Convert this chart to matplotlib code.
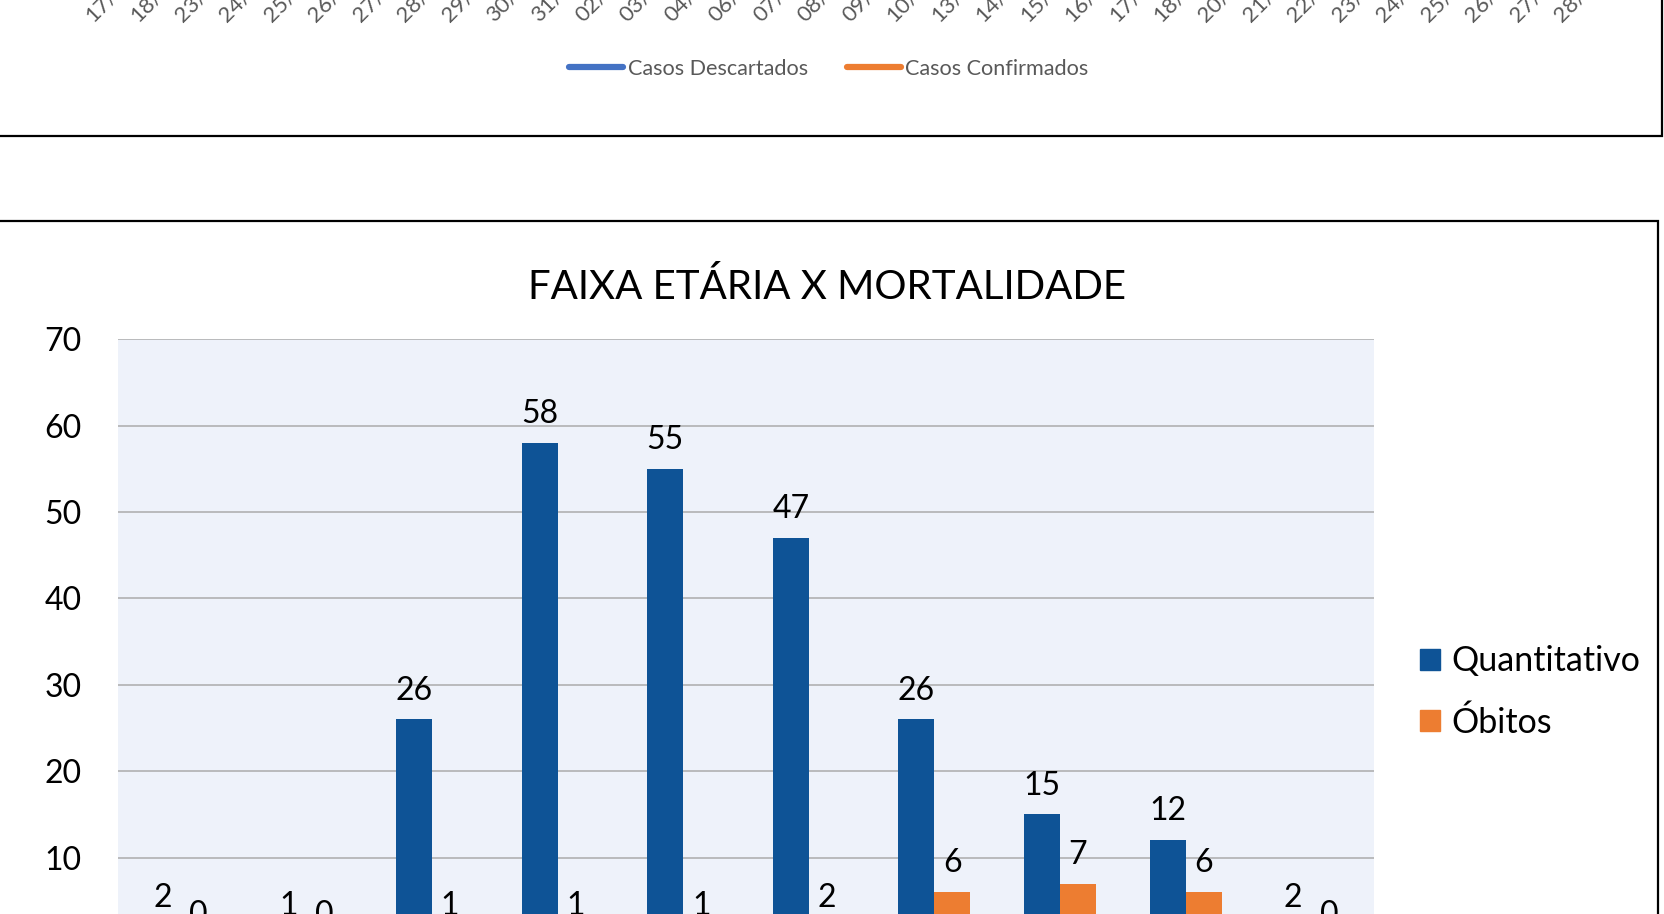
import numpy as np
import matplotlib
matplotlib.use("Agg")
import matplotlib.pyplot as plt
from matplotlib.patches import Rectangle, Patch
from matplotlib.lines import Line2D

plt.rcParams['font.family'] = ['Lato', 'DejaVu Sans']

# Dados - grafico de cima (so os rotulos das datas aparecem)
datas = ["17/03/2020", "18/03/2020", "23/03/2020", "24/03/2020", "25/03/2020",
         "26/03/2020", "27/03/2020", "28/03/2020", "29/03/2020", "30/03/2020",
         "31/03/2020", "02/04/2020", "03/04/2020", "04/04/2020", "06/04/2020",
         "07/04/2020", "08/04/2020", "09/04/2020", "10/04/2020", "13/04/2020",
         "14/04/2020", "15/04/2020", "16/04/2020", "17/04/2020", "18/04/2020",
         "20/04/2020", "21/04/2020", "22/04/2020", "23/04/2020", "24/04/2020",
         "25/04/2020", "26/04/2020", "27/04/2020", "28/04/2020"]
series_top = ["Casos Descartados", "Casos Confirmados"]

# Dados - faixa etaria x mortalidade
faixas = ["0-9", "10-19", "20-29", "30-39", "40-49",
          "50-59", "60-69", "70-79", "80-89", "90+"]
quantitativo = [2, 1, 26, 58, 55, 47, 26, 15, 12, 2]
obitos = [0, 0, 1, 1, 1, 2, 6, 7, 6, 0]

azul = "#0E5396"
laranja = "#ED7D31"
cinza_txt = "#595959"

W, H = 1664, 914
fig = plt.figure(figsize=(W / 100, H / 100), dpi=100)

def fx(px):
    return px / W

def fy(py):
    return 1 - py / H

# caixas dos graficos
fig.patches.append(Rectangle((fx(-20), fy(136)), fx(1662 + 20), 0.5,
                             transform=fig.transFigure, fill=False,
                             edgecolor="black", lw=1.6))
fig.patches.append(Rectangle((fx(-20), fy(1200)), fx(1658 + 20), fy(221) - fy(1200),
                             transform=fig.transFigure, fill=False,
                             edgecolor="black", lw=1.6))

# ---- grafico de cima (cortado) ----
passo = 44.5
x0_top = 169 - passo / 2
ax_top = fig.add_axes([fx(x0_top), fy(-84), fx(passo * len(datas)), 0.4])
ax_top.set_xlim(-0.5, len(datas) - 0.5)
ax_top.set_xticks(np.arange(len(datas)))
ax_top.set_xticklabels(datas, rotation=45, ha="right", rotation_mode="anchor",
                       fontsize=16, color=cinza_txt)
ax_top.tick_params(axis="x", length=0, pad=6)
ax_top.set_yticks([])
for s in ax_top.spines.values():
    s.set_visible(False)

handles = [Line2D([], [], color="#4472C4", lw=4.5, solid_capstyle="round"),
           Line2D([], [], color=laranja, lw=4.5, solid_capstyle="round")]
leg_top = fig.legend(handles, series_top, loc="center", ncol=2,
                     bbox_to_anchor=(fx(829), fy(69)), frameon=False,
                     fontsize=15.6, handlelength=2.5, handletextpad=0.2,
                     columnspacing=1.8, borderaxespad=0, borderpad=0)
for t in leg_top.get_texts():
    t.set_color(cinza_txt)

# ---- faixa etaria x mortalidade ----
ax = fig.add_axes([fx(118), fy(944), fx(1374 - 118), fy(339.3) - fy(944)])
x = np.arange(len(faixas))
bw = 0.2866
b1 = ax.bar(x - bw / 2, quantitativo, bw, color=azul, label="Quantitativo", zorder=3)
b2 = ax.bar(x + bw / 2, obitos, bw, color=laranja, label="Óbitos", zorder=3)
ax.bar_label(b1, padding=10, fontsize=23)
ax.bar_label(b2, padding=10, fontsize=23)

ax.set_xlim(-0.5, len(faixas) - 0.5)
ax.set_ylim(0, 70)
ax.set_yticks(range(0, 71, 10))
ax.set_xticks(x)
ax.set_xticklabels(faixas, fontsize=23)
ax.tick_params(axis="both", length=0, labelsize=23)
ax.tick_params(axis="y", pad=26)
ax.set_facecolor("#EEF2FA")
ax.yaxis.grid(True, color="#ABABAB", lw=1.1)
ax.set_axisbelow(True)
for s in ax.spines.values():
    s.set_visible(False)

fig.text(fx(827), fy(287), "FAIXA ETÁRIA X MORTALIDADE", fontsize=29,
         ha="center", va="center")

fig.legend([Patch(color=azul), Patch(color=laranja)], ["Quantitativo", "Óbitos"],
           loc="center left", bbox_to_anchor=(fx(1420), fy(692)), frameon=False,
           fontsize=24.5, handlelength=0.59, handleheight=0.59, handletextpad=0.32,
           labelspacing=0.84, borderaxespad=0, borderpad=0)

fig.savefig("out.png", dpi=100)
